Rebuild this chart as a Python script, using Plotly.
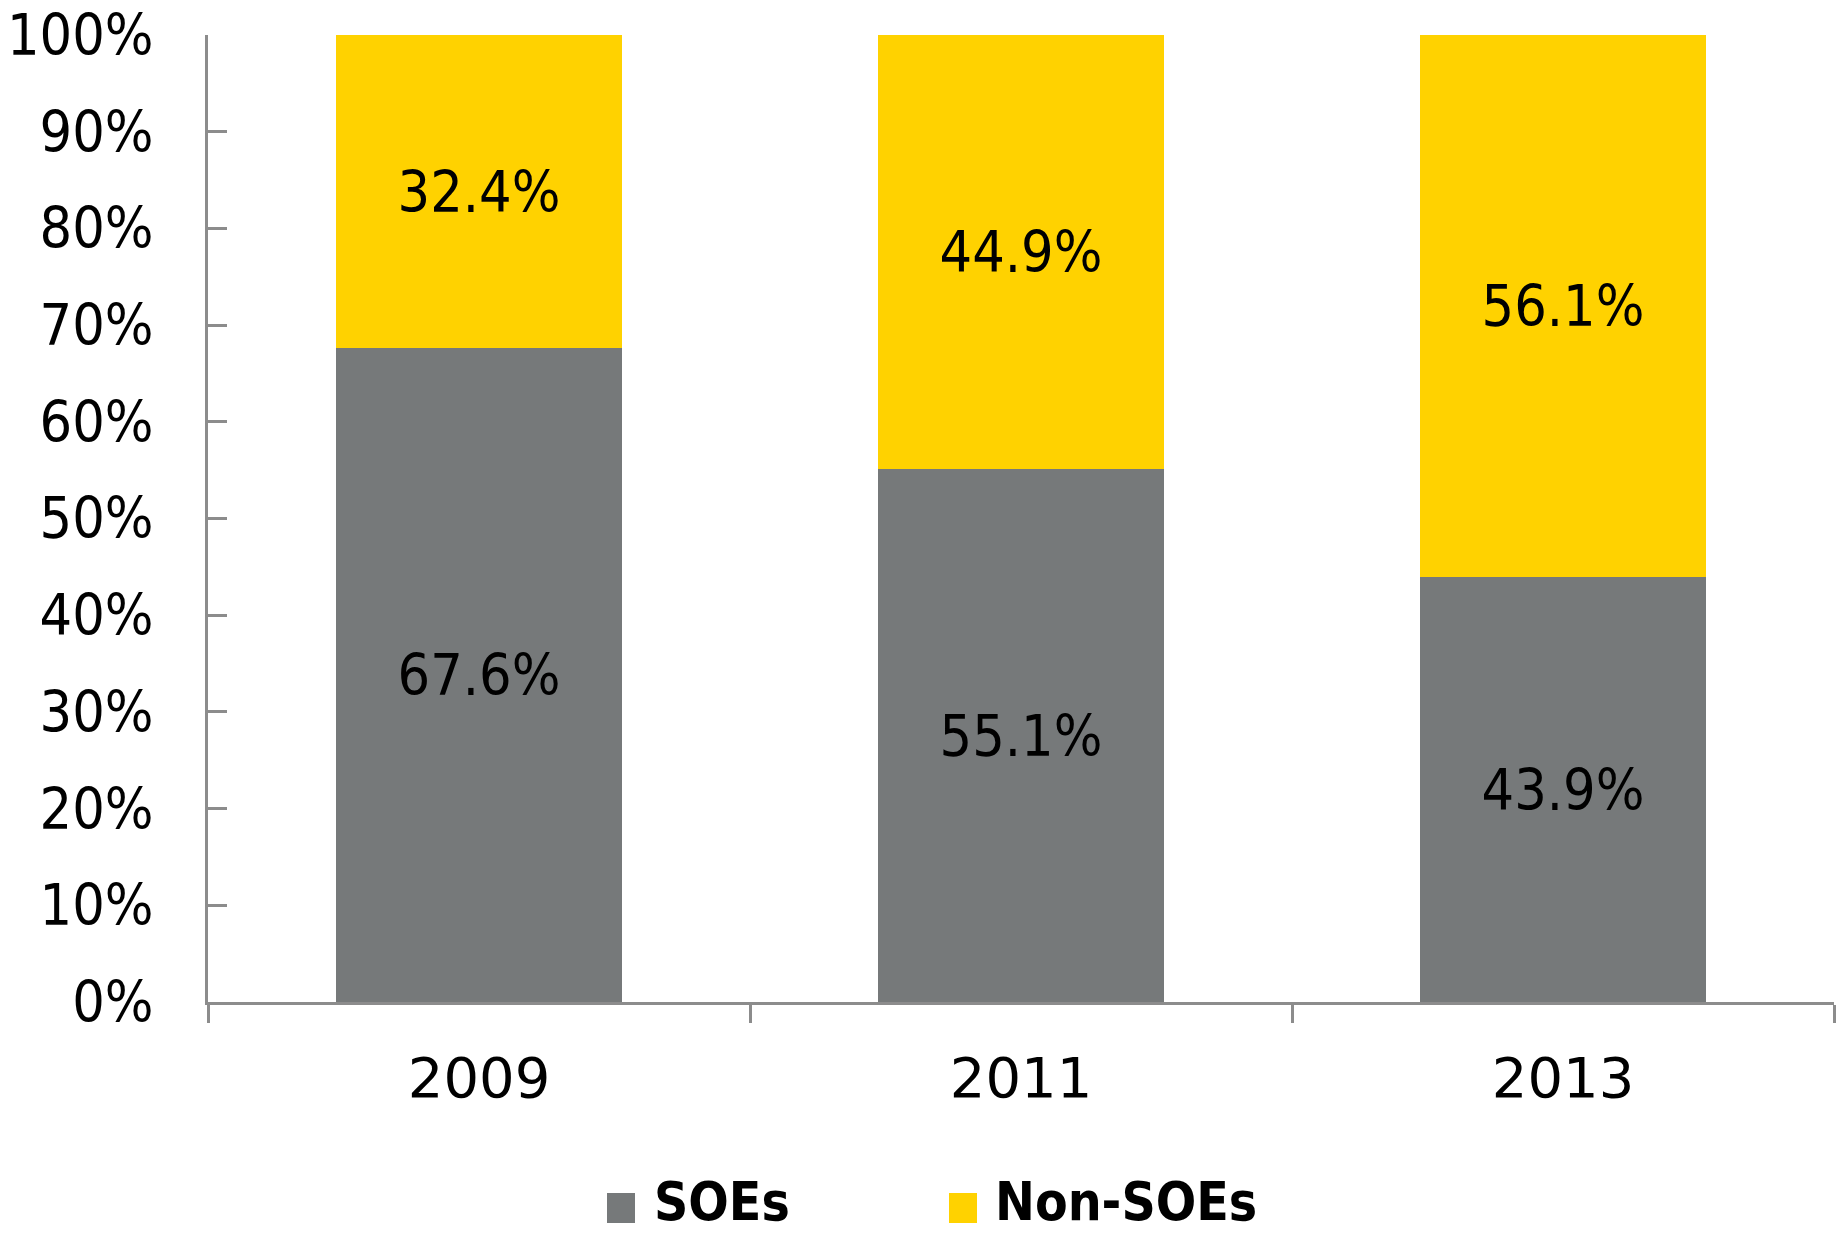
import plotly.graph_objects as go

years = ["2009", "2011", "2013"]
soes = [67.6, 55.1, 43.9]
non_soes = [32.4, 44.9, 56.1]
series_names = ["SOEs", "Non-SOEs"]
y_ticks = [0, 10, 20, 30, 40, 50, 60, 70, 80, 90, 100]
y_tick_labels = [f"{v}%" for v in y_ticks]

GRAY = "#76797a"
YELLOW = "#ffd200"
AXIS = "#8c8c8c"
FONT = "DejaVu Sans"
FONT_C = "DejaVu Sans Condensed, DejaVu Sans"

W, H = 1837, 1233
L, R, T, B = 208, 3, 35, 231
pw, ph = W - L - R, H - T - B


def px_x(px):
    return (px - L) / pw


def px_y(py):
    return (H - B - py) / ph


fig = go.Figure()
for name, vals, col in [(series_names[0], soes, GRAY), (series_names[1], non_soes, YELLOW)]:
    fig.add_trace(go.Bar(
        x=years, y=vals, name=name, marker=dict(color=col, line=dict(width=0)),
        texttemplate="%{y:.1f}%", textposition="inside", insidetextanchor="middle",
        textfont=dict(family=FONT_C, size=57, color="black"),
        showlegend=False, hoverinfo="skip",
    ))

# manual legend
leg = [(series_names[0], GRAY, 607, 652), (series_names[1], YELLOW, 949, 993)]
for name, col, sx, tx in leg:
    fig.add_shape(type="rect", xref="paper", yref="paper",
                  x0=px_x(sx), x1=px_x(sx + 28), y0=px_y(1223), y1=px_y(1193),
                  fillcolor=col, line=dict(width=0))
    fig.add_annotation(xref="paper", yref="paper", x=px_x(tx), y=px_y(1201),
                       xanchor="left", yanchor="middle", showarrow=False,
                       text=name, font=dict(family=FONT_C, size=53, color="black", weight="bold"))

fig.update_layout(
    width=W, height=H, barmode="stack", bargap=0.472,
    margin=dict(l=L, r=R, t=T, b=B, autoexpand=False),
    plot_bgcolor="white", paper_bgcolor="white",
    font=dict(family=FONT, size=55, color="black"),
    xaxis=dict(type="category", showline=True, linecolor=AXIS, linewidth=3, automargin=False,
               ticks="outside", tickson="boundaries", ticklen=18, tickwidth=3, tickcolor=AXIS,
               showgrid=False, zeroline=False, ticklabelstandoff=25,
               tickfont=dict(family=FONT, size=56, color="black")),
    yaxis=dict(range=[0, 100], tickmode="array", tickvals=y_ticks, ticktext=y_tick_labels,
               showline=True, automargin=False,
               linecolor=AXIS, linewidth=3, ticks="inside", ticklen=19, tickwidth=3,
               tickcolor=AXIS, showgrid=False, zeroline=False, ticklabelstandoff=40,
               tickfont=dict(family=FONT_C, size=57, color="black")),
)

fig.write_html("out.html", config={"displayModeBar": False},
               post_script="document.body.style.margin='0';document.body.style.overflow='hidden';")
